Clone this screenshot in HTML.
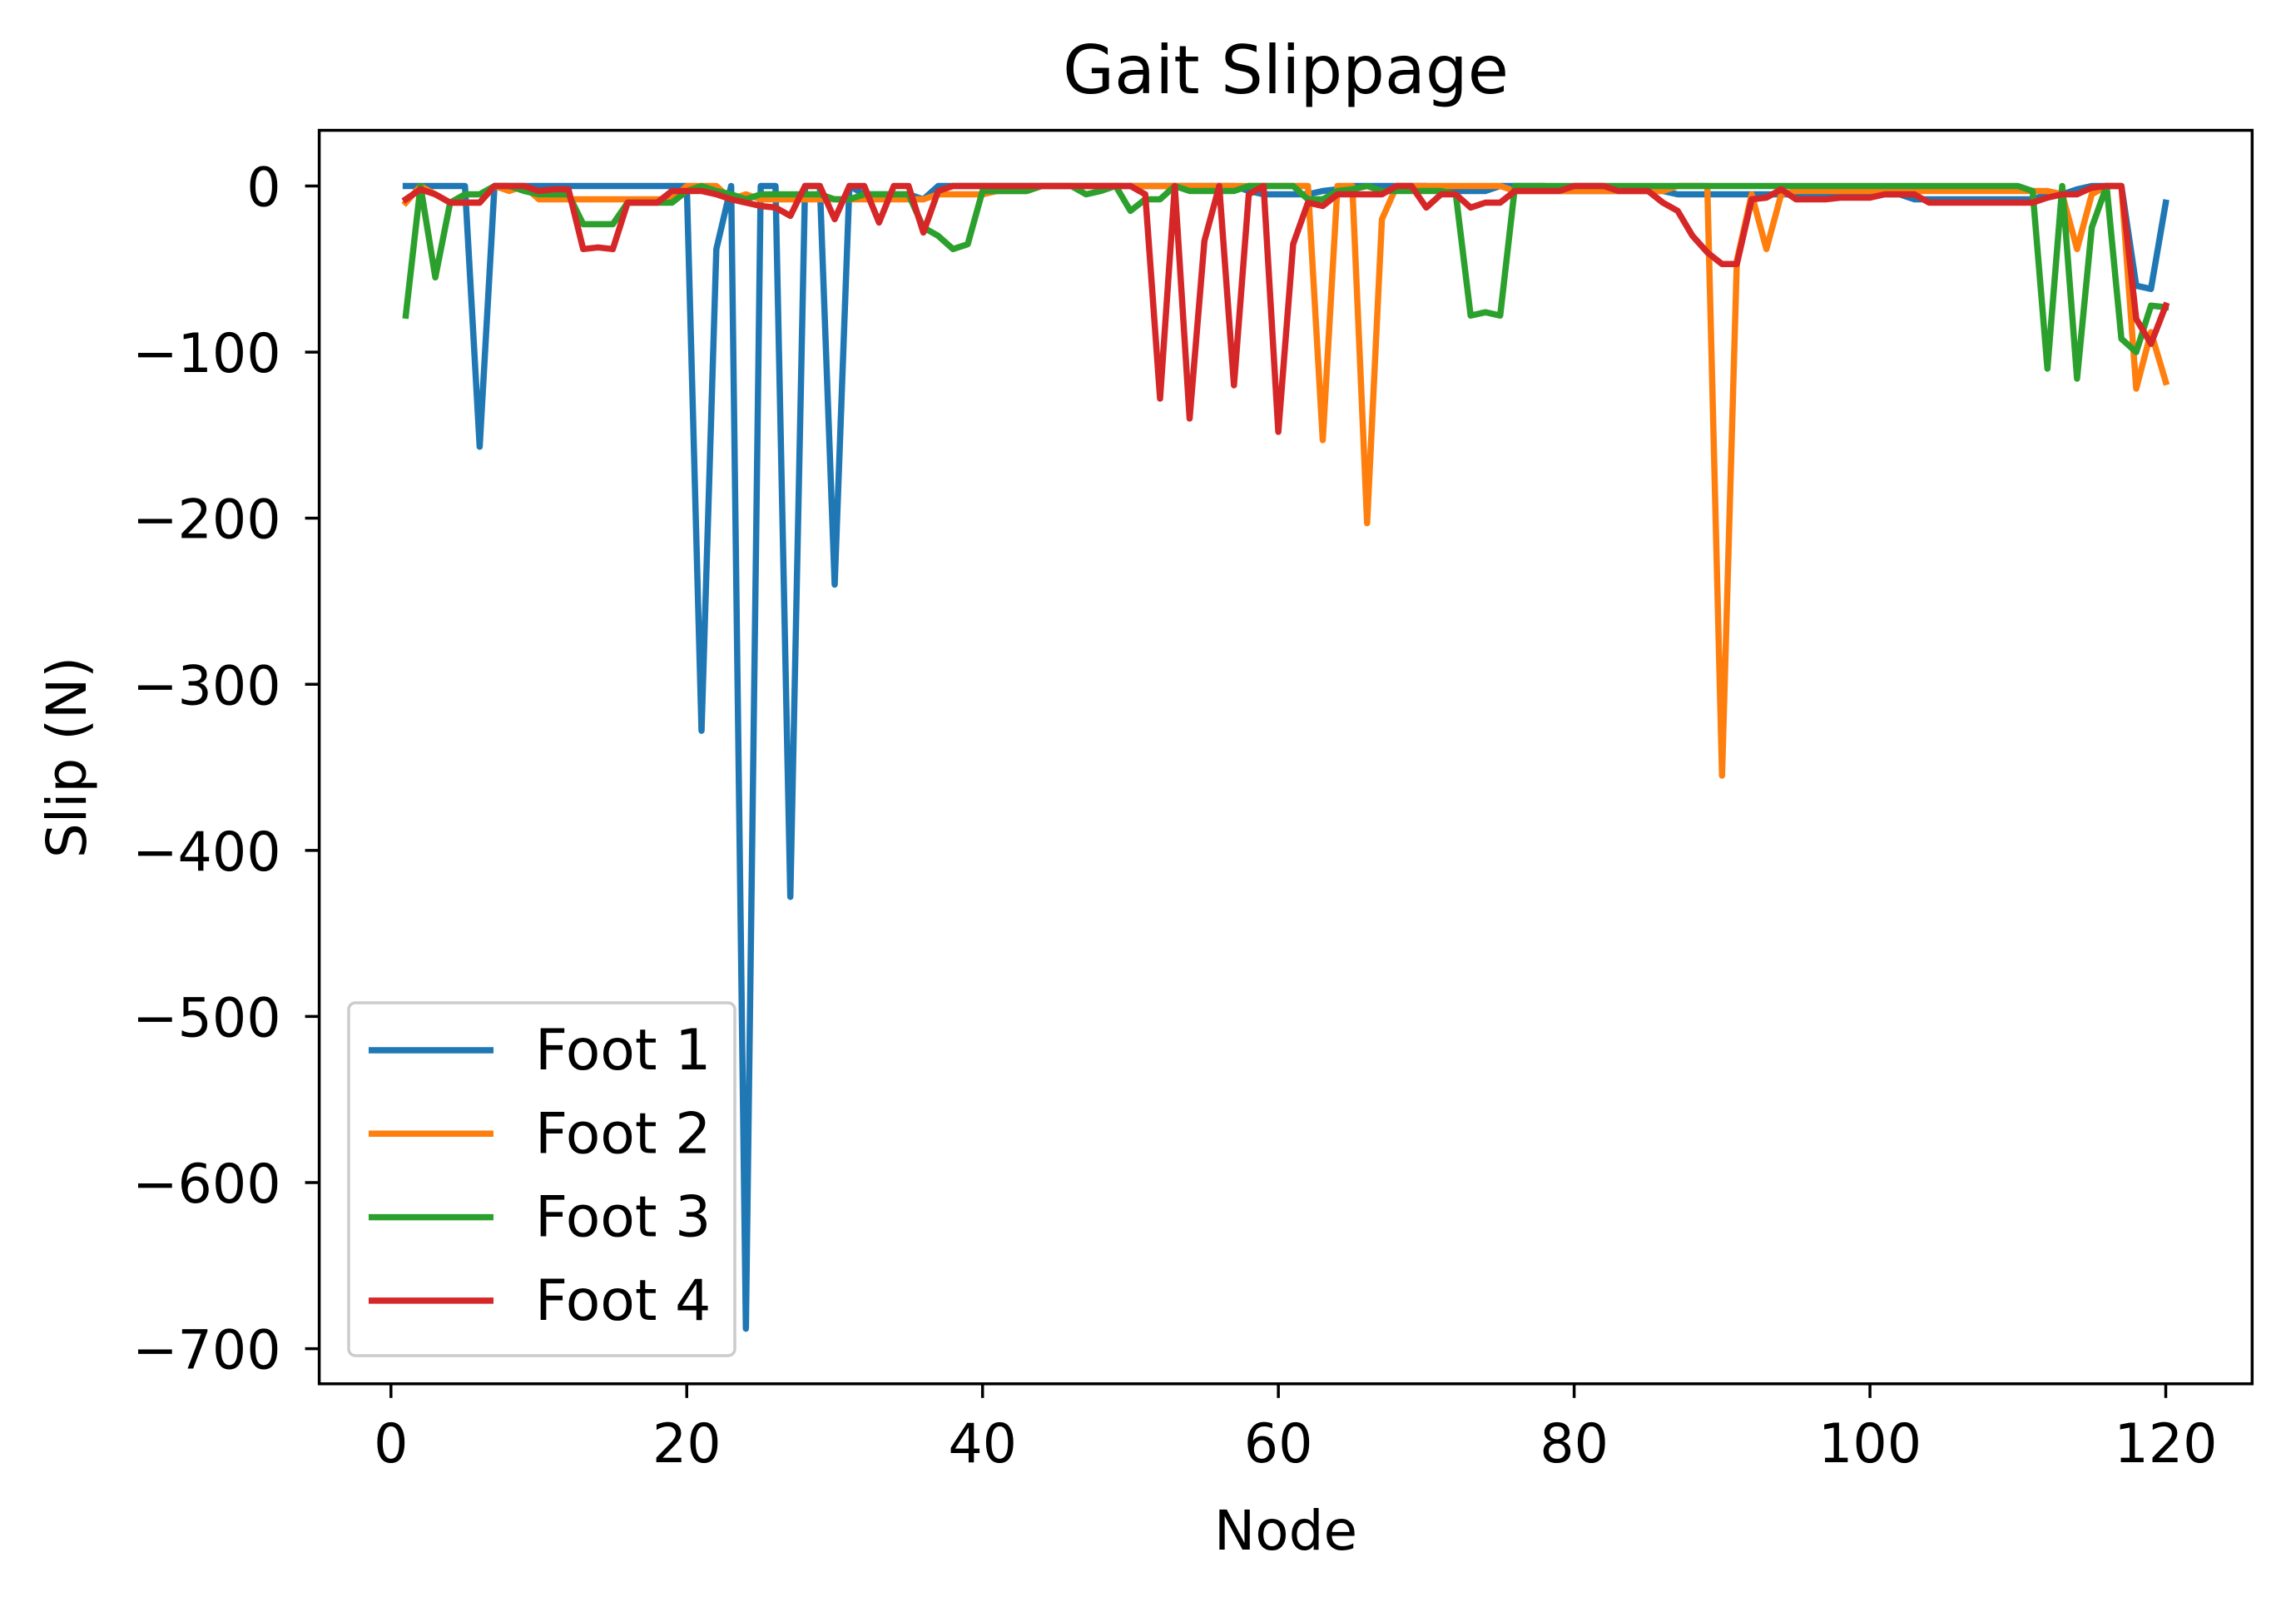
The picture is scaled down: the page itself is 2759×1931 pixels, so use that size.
<!DOCTYPE html>
<html><head><meta charset="utf-8"><style>
html,body{margin:0;padding:0;background:#fff}
text{font-family:"DejaVu Sans","Liberation Sans",sans-serif;fill:#000}
</style></head><body>
<svg id="chart" width="2759" height="1926" viewBox="0 0 2759 1926" xmlns="http://www.w3.org/2000/svg">
<rect width="2759" height="1926" fill="#fff"/>
<g id="plot"></g>
</svg>
<script>
const xTicks = [0,20,40,60,80,100,120];
const yTicks = [0,-100,-200,-300,-400,-500,-600,-700];
const seriesNames = ["Foot 1","Foot 2","Foot 3","Foot 4"];
const foot1 = [0,0,0,0,0,-157,0,0,0,0,0,0,0,0,0,0,0,0,0,0,-328,-38,0,-688,0,0,-428,0,0,-240,0,-5,-5,-5,-5,-8,0,0,0,0,0,0,0,0,0,0,0,0,0,0,0,0,0,0,0,0,0,-3,-5,-5,-5,-5,-3,-2,0,0,0,0,0,0,-3,-3,-3,-3,0,0,0,0,-3,-3,-3,-3,-3,-3,-3,-3,-5,-5,-5,-5,-5,-5,-5,-5,-5,-5,-5,-5,-5,-5,-5,-5,-8,-8,-8,-8,-8,-8,-8,-8,-8,-5,-5,-2,0,0,0,-60,-62,-10];
const foot2 = [-10,0,-5,-10,-10,-10,0,-3,0,-8,-8,-8,-8,-8,-8,-8,-8,-8,-8,0,0,0,-8,-5,-8,-8,-8,-8,-8,-8,-8,-8,-8,-8,-8,-8,-5,-5,-5,-5,-3,-3,-3,0,0,0,0,0,0,0,0,0,0,0,0,0,0,0,0,0,0,0,-153,0,0,-203,-20,0,0,0,0,0,0,0,0,-3,-3,-3,-3,-3,-3,-3,-3,-3,-3,-3,0,0,0,-355,-45,-5,-38,-5,-3,-3,-3,-3,-3,-3,-3,-3,-3,-3,-3,-3,-3,-3,-3,-3,-3,-3,-5,-38,-5,0,0,-122,-88,-118];
const foot3 = [-78,0,-55,-10,-5,-5,0,0,-3,-5,-5,-5,-23,-23,-23,-10,-10,-10,-10,-3,0,-3,-5,-8,-5,-5,-5,-5,-5,-8,-8,-5,-5,-5,-5,-25,-30,-38,-35,-3,-3,-3,-3,0,0,0,-5,-3,0,-15,-8,-8,0,-3,-3,-3,-3,0,0,0,0,-8,-8,-3,-2,0,-3,-3,-3,-3,-3,-5,-78,-76,-78,0,0,0,0,0,0,0,0,0,0,0,0,0,0,0,0,0,0,0,0,0,0,0,0,0,0,0,0,0,0,0,0,0,0,0,-3,-110,0,-116,-25,0,-92,-100,-72,-73];
const foot4 = [-8,-2,-5,-10,-10,-10,0,0,0,-3,-2,-2,-38,-37,-38,-10,-10,-10,-3,-3,-3,-5,-8,-10,-12,-13,-18,0,0,-20,0,0,-22,0,0,-28,-3,0,0,0,0,0,0,0,0,0,0,0,0,0,-5,-128,0,-140,-33,0,-120,-5,0,-148,-35,-10,-12,-5,-5,-5,-5,0,0,-13,-5,-5,-13,-10,-10,-3,-3,-3,-3,0,0,0,-3,-3,-3,-10,-15,-30,-40,-47,-47,-8,-7,-2,-8,-8,-8,-7,-7,-7,-5,-5,-5,-10,-10,-10,-10,-10,-10,-10,-10,-7,-5,-5,-1,0,0,-80,-95,-72];
const allSeries = [foot1, foot2, foot3, foot4];
const colors = ["#1f77b4","#ff7f0e","#2ca02c","#d62728"];

const NS = "http://www.w3.org/2000/svg";
const L = 383.6, R = 2706.3, T = 156.6, B = 1662.8;
function xs(v){ return 469.8 + (v/120)*(2602.5-469.8); }
function ys(v){ return 223.5 + (v/-700)*(1620.6-223.5); }
const g = document.getElementById('plot');
function mk(tag, attrs, parent){ const e=document.createElementNS(NS,tag); for(const k in attrs) e.setAttribute(k,attrs[k]); (parent||g).appendChild(e); return e; }

allSeries.forEach((s,i)=>{
  const pts = s.map((v,j)=>xs(j+1).toFixed(1)+","+ys(v).toFixed(1)).join(" ");
  const pl = mk('polyline',{points:pts,fill:'none',stroke:colors[i],'stroke-width':7.5,'stroke-linejoin':'round','stroke-linecap':'square'});
  
  
});

const frame = mk('rect',{x:L,y:T,width:R-L,height:B-T,fill:'none',stroke:'#000','stroke-width':3.5});



xTicks.forEach(v=>{
  const x = xs(v);
  const t = mk('line',{x1:x,x2:x,y1:B,y2:B+17,stroke:'#000','stroke-width':3.5});
  
  
  const lb = mk('text',{x:x,y:B+94,'text-anchor':'middle','font-size':65});
  lb.textContent = String(v);
  
  
});
yTicks.forEach(v=>{
  const y = ys(v);
  const t = mk('line',{x1:L-17,x2:L,y1:y,y2:y,stroke:'#000','stroke-width':3.5});
  
  
  const lb = mk('text',{x:L-46,y:y+24,'text-anchor':'end','font-size':65});
  lb.textContent = v<0 ? "\u2212"+Math.abs(v) : String(v);
  
  
});

const title = mk('text',{x:1545,y:112,'text-anchor':'middle','font-size':80});
title.textContent = "Gait Slippage";


const xl = mk('text',{x:1545,y:1862,'text-anchor':'middle','font-size':66});
xl.textContent = "Node";


const yl = mk('text',{x:103,y:910,'text-anchor':'middle','font-size':66,transform:'rotate(-90 103 910)'});
yl.textContent = "Slip (N)";



const leg = mk('rect',{x:419,y:1205,width:464,height:424,rx:8,fill:'#fff','fill-opacity':0.8,stroke:'#ccc','stroke-width':3.5});


seriesNames.forEach((n,i)=>{
  const y = 1262 + i*100.3;
  const ln = mk('line',{x1:443,x2:593,y1:y,y2:y,stroke:colors[i],'stroke-width':7.5});
  
  
  const tx = mk('text',{x:643,y:y+23,'font-size':68});
  tx.textContent = n;
  
  
});
</script>
</body></html>
